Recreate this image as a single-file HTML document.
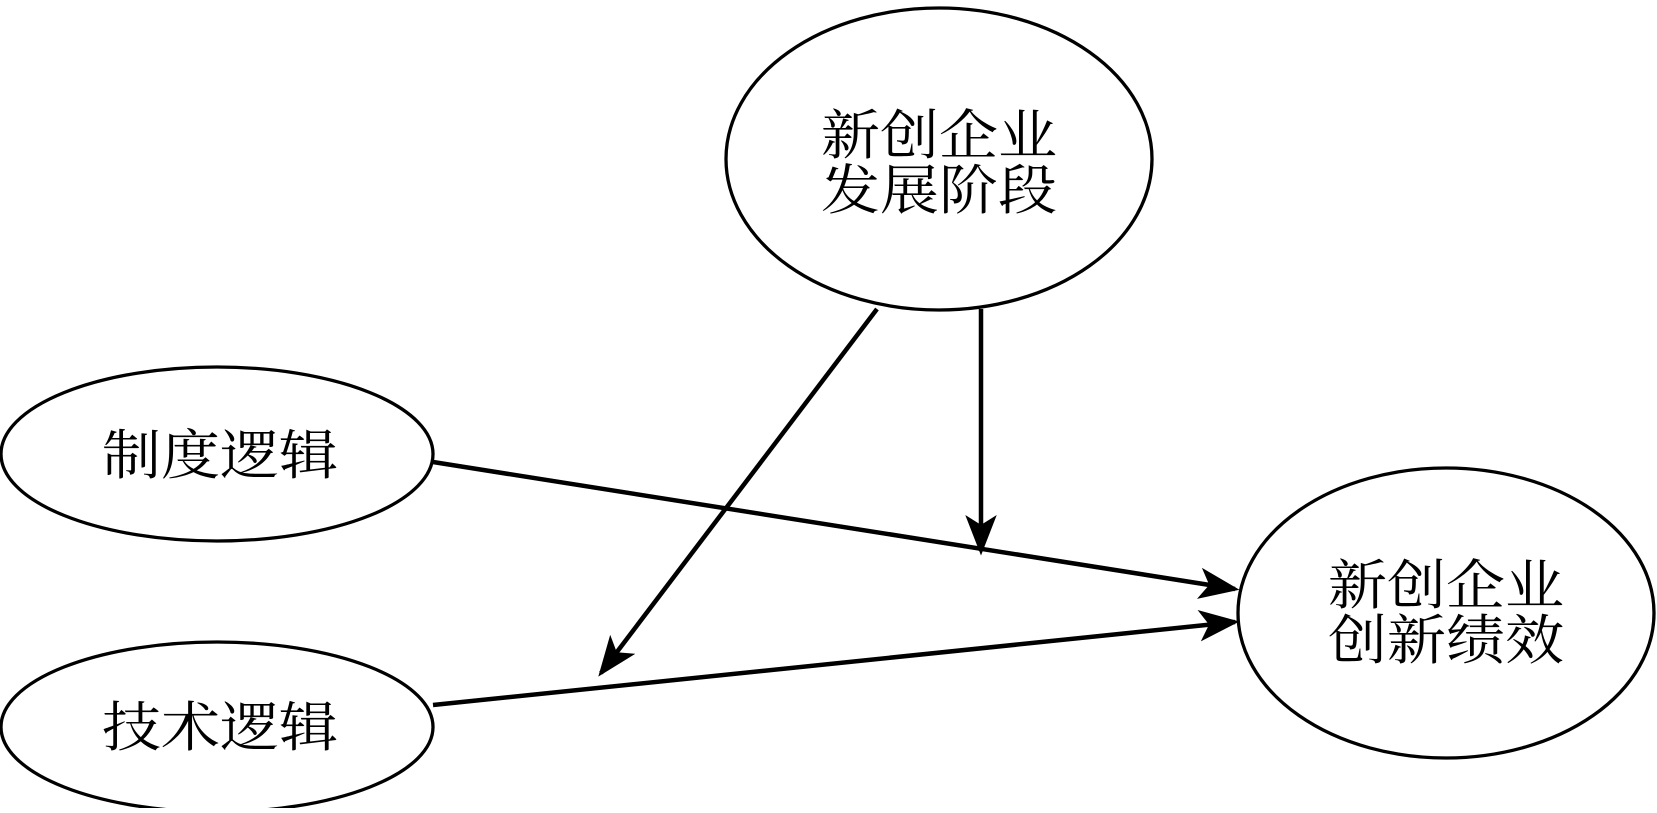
<!DOCTYPE html>
<html><head><meta charset="utf-8"><style>html,body{margin:0;padding:0;background:#fff}</style></head>
<body>
<svg width="1657" height="808" viewBox="0 0 1657 808" xmlns="http://www.w3.org/2000/svg">
<defs>
<marker id="a" markerWidth="9" markerHeight="7" refX="8" refY="3.5" orient="auto" markerUnits="strokeWidth">
<path d="M0,0 L9,3.5 L0,7 L2.2,3.5 z" fill="#000"/>
</marker>
</defs>
<g fill="none" stroke="#000" stroke-width="3.3">
<ellipse cx="939" cy="159" rx="213" ry="151"/>
<ellipse cx="217" cy="454" rx="216" ry="87"/>
<ellipse cx="217" cy="727" rx="216" ry="85"/>
<ellipse cx="1446" cy="613" rx="208" ry="145"/>
</g>
<g stroke="#000" stroke-width="4.5" fill="none">
<line x1="433" y1="462" x2="1235" y2="589" marker-end="url(#a)"/>
<line x1="433" y1="705" x2="1235" y2="622" marker-end="url(#a)"/>
<line x1="877" y1="309" x2="601" y2="673" marker-end="url(#a)"/>
<line x1="981" y1="309" x2="981" y2="551" marker-end="url(#a)"/>
</g>
<g font-family="'Liberation Serif','Noto Serif CJK SC',serif" font-size="54" text-anchor="middle" fill="#000">
<text x="939" y="154" textLength="236" lengthAdjust="spacingAndGlyphs">新创企业</text>
<text x="939" y="209" textLength="236" lengthAdjust="spacingAndGlyphs">发展阶段</text>
<text x="220" y="474" textLength="236" lengthAdjust="spacingAndGlyphs">制度逻辑</text>
<text x="220" y="746" textLength="236" lengthAdjust="spacingAndGlyphs">技术逻辑</text>
<text x="1446" y="604" textLength="236" lengthAdjust="spacingAndGlyphs">新创企业</text>
<text x="1446" y="659" textLength="236" lengthAdjust="spacingAndGlyphs">创新绩效</text>
</g>
</svg>
</body></html>
